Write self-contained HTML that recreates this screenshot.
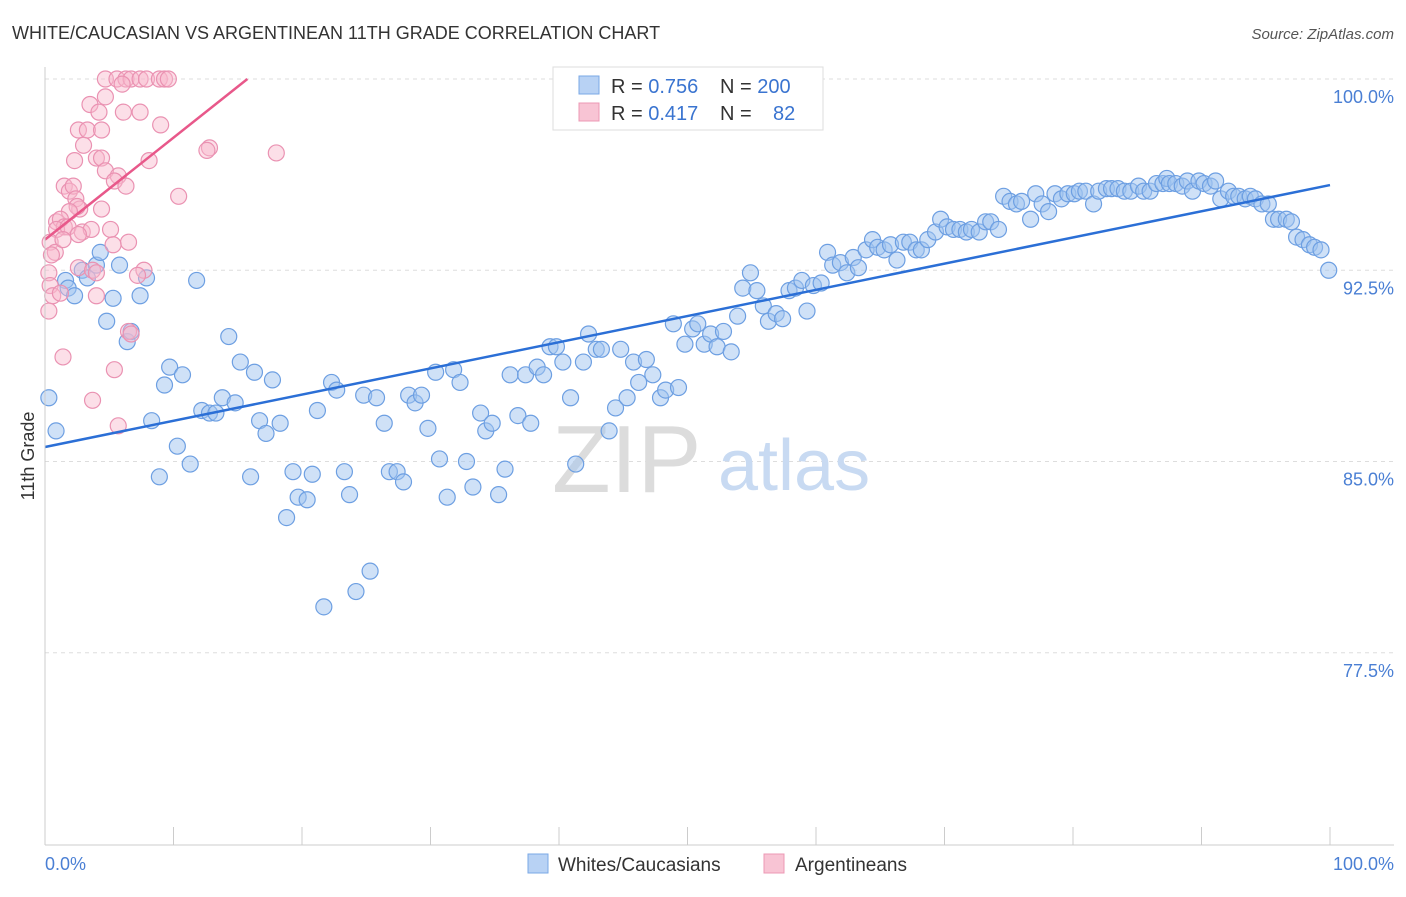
<!DOCTYPE html>
<html><head><meta charset="utf-8"><style>
body{margin:0;background:#fff;font-family:"Liberation Sans",sans-serif;}
svg text{font-family:"Liberation Sans",sans-serif;}
</style></head><body>
<svg id="chart" width="1406" height="892" xmlns="http://www.w3.org/2000/svg">
<text x="12" y="39" font-size="18" fill="#333">WHITE/CAUCASIAN VS ARGENTINEAN 11TH GRADE CORRELATION CHART</text>
<text x="1394" y="39" font-size="15" fill="#555" text-anchor="end" font-style="italic">Source: ZipAtlas.com</text>
<g id="grid"></g>
<text x="552" y="492" font-size="96" fill="#dcdcdc" font-family="Liberation Serif,serif">ZIP</text>
<text x="718" y="490" font-size="72" fill="#c8daf2">atlas</text>
<g id="pts"></g>
<g id="trends"></g>
<g id="axes"></g>
<text transform="translate(34,456) rotate(-90)" font-size="18" fill="#333" text-anchor="middle">11th Grade</text>
<text x="45" y="870" font-size="18" fill="#4a7fd4">0.0%</text>
<text x="1394" y="870" font-size="18" fill="#4a7fd4" text-anchor="end">100.0%</text>
<g>
<rect x="553" y="67" width="270" height="63" fill="#fff" stroke="#ddd"/>
<rect x="579" y="76" width="20" height="18" fill="#b8d2f4" stroke="#7aa8e6"/>
<rect x="579" y="103" width="20" height="18" fill="#f8c4d4" stroke="#ec98b4"/>
<text x="611" y="93" font-size="20" fill="#333">R = <tspan fill="#3a74d0">0.756</tspan></text>
<text x="720" y="93" font-size="20" fill="#333">N = <tspan fill="#3a74d0">200</tspan></text>
<text x="611" y="120" font-size="20" fill="#333">R = <tspan fill="#3a74d0">0.417</tspan></text>
<text x="720" y="120" font-size="20" fill="#333">N = <tspan fill="#3a74d0" x="773">82</tspan></text>
</g>
<g>
<rect x="528" y="854" width="20" height="19" fill="#b8d2f4" stroke="#7aa8e6"/>
<text x="558" y="871" font-size="19" fill="#333">Whites/Caucasians</text></g>
<g>
<rect x="764" y="854" width="20" height="19" fill="#f8c4d4" stroke="#ec98b4"/>
<text x="795" y="871" font-size="19" fill="#333">Argentineans</text></g>
</svg>
<script>
const yTicks=[100,92.5,85,77.5];
const yTickLabels=["100.0%","92.5%","85.0%","77.5%"];
const blueX=[0.3,0.86,1.6,1.8,2.3,2.9,3.3,4.0,4.3,4.8,5.3,5.8,6.4,6.7,7.4,7.9,8.3,8.9,9.3,9.7,10.3,10.7,11.3,11.8,12.2,12.8,13.3,13.8,14.3,14.8,15.2,16.0,16.3,16.7,17.2,17.7,18.3,18.8,19.3,19.7,20.4,20.8,21.2,21.7,22.3,22.7,23.3,23.7,24.2,24.8,25.3,25.8,26.4,26.8,27.4,27.9,28.3,28.8,29.3,29.8,30.4,30.7,31.3,31.8,32.3,32.8,33.3,33.9,34.3,34.8,35.3,35.8,36.2,36.8,37.4,37.8,38.3,38.8,39.3,39.8,40.3,40.9,41.3,41.9,42.3,42.9,43.3,43.9,44.4,44.8,45.3,45.8,46.2,46.8,47.3,47.9,48.3,48.9,49.3,49.8,50.4,50.8,51.3,51.8,52.3,52.8,53.4,53.9,54.3,54.9,55.4,55.9,56.3,56.9,57.4,57.9,58.4,58.9,59.3,59.8,60.4,60.9,61.3,61.9,62.4,62.9,63.3,63.9,64.4,64.8,65.3,65.8,66.3,66.8,67.3,67.8,68.2,68.7,69.3,69.7,70.2,70.7,71.2,71.7,72.1,72.7,73.2,73.6,74.2,74.6,75.1,75.6,76.0,76.7,77.1,77.6,78.1,78.6,79.1,79.6,80.1,80.5,81.0,81.6,82.0,82.6,83.0,83.5,84.0,84.5,85.1,85.5,86.0,86.5,87.0,87.3,87.5,88.0,88.5,88.9,89.3,89.8,90.2,90.7,91.1,91.5,92.1,92.5,92.9,93.4,93.8,94.2,94.7,95.2,95.6,96.0,96.6,97.0,97.4,97.9,98.4,98.8,99.3,99.9];
const blueY=[87.5,86.2,92.1,91.8,91.5,92.5,92.2,92.7,93.2,90.5,91.4,92.7,89.7,90.1,91.5,92.2,86.6,84.4,88.0,88.7,85.6,88.4,84.9,92.1,87.0,86.9,86.9,87.5,89.9,87.3,88.9,84.4,88.5,86.6,86.1,88.2,86.5,82.8,84.6,83.6,83.5,84.5,87.0,79.3,88.1,87.8,84.6,83.7,79.9,87.6,80.7,87.5,86.5,84.6,84.6,84.2,87.6,87.3,87.6,86.3,88.5,85.1,83.6,88.6,88.1,85.0,84.0,86.9,86.2,86.5,83.7,84.7,88.4,86.8,88.4,86.5,88.7,88.4,89.5,89.5,88.9,87.5,84.9,88.9,90.0,89.4,89.4,86.2,87.1,89.4,87.5,88.9,88.1,89.0,88.4,87.5,87.8,90.4,87.9,89.6,90.2,90.4,89.6,90.0,89.5,90.1,89.3,90.7,91.8,92.4,91.7,91.1,90.5,90.8,90.6,91.7,91.8,92.1,90.9,91.9,92.0,93.2,92.7,92.8,92.4,93.0,92.6,93.3,93.7,93.4,93.3,93.5,92.9,93.6,93.6,93.3,93.3,93.7,94.0,94.5,94.2,94.1,94.1,94.0,94.1,94.0,94.4,94.4,94.1,95.4,95.2,95.1,95.2,94.5,95.5,95.1,94.8,95.5,95.3,95.5,95.5,95.6,95.6,95.1,95.6,95.7,95.7,95.7,95.6,95.6,95.8,95.6,95.6,95.9,95.9,96.1,95.9,95.9,95.8,96.0,95.6,96.0,95.9,95.8,96.0,95.3,95.6,95.4,95.4,95.3,95.4,95.3,95.1,95.1,94.5,94.5,94.5,94.4,93.8,93.7,93.5,93.4,93.3,92.5];
const pinkX=[4.7,5.6,6.3,6.7,7.4,7.9,8.9,9.3,9.6,6.0,3.5,4.7,4.2,6.1,7.4,9.0,2.6,3.3,4.4,3.0,4.0,4.4,2.3,12.8,12.6,18.0,8.1,4.7,5.7,5.4,6.3,1.5,1.9,2.2,10.4,2.4,2.7,2.5,4.4,1.9,0.9,1.2,1.5,0.9,1.8,2.9,3.6,5.1,0.4,0.8,2.6,1.4,6.5,5.3,0.5,0.3,2.6,3.7,4.0,7.7,7.2,0.4,0.6,1.2,0.3,4.0,6.5,6.7,1.4,5.4,3.7,5.7];
const pinkY=[100,100,100,100,100,100,100,100,100,99.8,99.0,99.3,98.7,98.7,98.7,98.2,98.0,98.0,98.0,97.4,96.9,96.9,96.8,97.3,97.2,97.1,96.8,96.4,96.2,96.0,95.8,95.8,95.6,95.8,95.4,95.3,94.9,95.0,94.9,94.8,94.4,94.5,94.2,94.1,94.2,94.0,94.1,94.1,93.6,93.2,93.9,93.7,93.6,93.5,93.1,92.4,92.6,92.5,92.4,92.5,92.3,91.9,91.5,91.6,90.9,91.5,90.1,90.0,89.1,88.6,87.4,86.4];
const blueTrend=[85.57,95.84]; // y at x=0, x=100
const pinkTrend=[93.7,0.4]; // intercept, slope per %
const NS="http://www.w3.org/2000/svg";
function sx(v){return 45+v*12.85;}
function sy(v){return 79+(100-v)*25.5;}
function mk(tag,attrs,parent){const e=document.createElementNS(NS,tag);for(const k in attrs)e.setAttribute(k,attrs[k]);parent.appendChild(e);return e;}
const grid=document.getElementById('grid');
yTicks.forEach((t,i)=>{
 const l=mk('line',{x1:45,x2:1394,y1:sy(t),y2:sy(t),stroke:'#ddd','stroke-dasharray':'4,4'},grid);
 
 
 const tx=mk('text',{x:1394,y:sy(t)+24,'font-size':18,fill:'#4a7fd4','text-anchor':'end'},grid);
 tx.textContent=yTickLabels[i];
 
 
});
const axes=document.getElementById('axes');
mk('line',{x1:45,x2:45,y1:67,y2:845,stroke:'#ccc'},axes);
mk('line',{x1:45,x2:1394,y1:845,y2:845,stroke:'#ccc'},axes);
for(let i=0;i<=10;i++){const t=mk('line',{x1:sx(i*10),x2:sx(i*10),y1:827,y2:845,stroke:'#ccc'},axes);
 
 }
const pts=document.getElementById('pts');
blueX.forEach((x,i)=>{const c=mk('circle',{cx:sx(x),cy:sy(blueY[i]),r:8,fill:'rgba(160,196,240,0.5)',stroke:'#6d9fe2','stroke-width':1.2},pts);
 
 });
pinkX.forEach((x,i)=>{const c=mk('circle',{cx:sx(x),cy:sy(pinkY[i]),r:8,fill:'rgba(248,184,204,0.45)',stroke:'#ea92b2','stroke-width':1.2},pts);
 
 });
const tr=document.getElementById('trends');
const bl=mk('line',{x1:sx(0),y1:sy(blueTrend[0]),x2:sx(100),y2:sy(blueTrend[1]),stroke:'#2b6fd6','stroke-width':2.5},tr);


const xEnd=(100-pinkTrend[0])/pinkTrend[1];
const pl=mk('line',{x1:sx(0),y1:sy(pinkTrend[0]),x2:sx(xEnd),y2:sy(100),stroke:'#e8588a','stroke-width':2.5},tr);


</script>
</body></html>
